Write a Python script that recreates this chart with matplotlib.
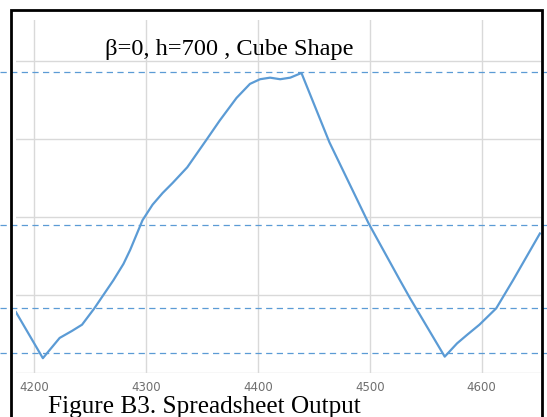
import numpy as np
import matplotlib
matplotlib.use("Agg")
import matplotlib.pyplot as plt
from matplotlib.patches import Rectangle

# Curve (x = time step, y = arbitrary units).
x_vals = [4184, 4208, 4223, 4234, 4243, 4254, 4262, 4271, 4280, 4286, 4297,
          4306, 4315, 4324, 4337, 4354, 4366, 4381, 4393, 4402, 4411, 4420,
          4429, 4439, 4464, 4499, 4527, 4536, 4567, 4578, 4587, 4598, 4613,
          4628, 4652]
y_vals = [0.78, 0.19, 0.45, 0.54, 0.62, 0.83, 1.00, 1.19, 1.40, 1.58, 1.96,
          2.16, 2.31, 2.44, 2.64, 2.99, 3.24, 3.53, 3.71, 3.77, 3.79, 3.77,
          3.79, 3.85, 2.96, 1.92, 1.19, 0.96, 0.21, 0.38, 0.49, 0.62, 0.83,
          1.19, 1.79]

# Dashed reference levels
ref_levels = [3.86, 1.90, 0.83, 0.26]

x_ticks = [4200, 4300, 4400, 4500, 4600]
y_grid = [0, 1, 2, 3, 4]

title_text = "\u03b2=0, h=700 , Cube Shape"
caption_text = "Figure B3. Spreadsheet Output"

blue = "#5b9bd5"

fig = plt.figure(figsize=(5.47, 4.17), dpi=100)
ax = fig.add_axes([16 / 547, 1 - 373 / 417, 525 / 547, 353 / 417])

ax.plot(x_vals, y_vals, color=blue, lw=1.6, zorder=3)

for lvl in ref_levels:
    ax.axhline(lvl, xmin=-0.031, xmax=1.012, color=blue, lw=0.9,
               ls=(0, (5, 3.5)), clip_on=False, zorder=2)

ax.set_xlim(4184, 4653)
ax.set_ylim(0, 4.53)
ax.set_xticks(x_ticks)
ax.set_yticks(y_grid)
ax.set_yticklabels([])
ax.tick_params(axis="both", length=0)
ax.tick_params(axis="x", labelsize=8.5, labelcolor="#6f6f6f", pad=6)
ax.grid(True, color="#d9d9d9", lw=1)
ax.set_axisbelow(True)
for s in ax.spines.values():
    s.set_visible(False)

# black outer frame
fig.patches.append(Rectangle((11 / 547, -0.05), 531 / 547, 1 - 10 / 417 + 0.05,
                             transform=fig.transFigure, fill=False,
                             edgecolor="black", lw=2, zorder=5))

fig.text(105 / 547, 1 - 50 / 417, title_text, family="Liberation Serif",
         fontsize=17.6, va="center", ha="left")
fig.text(48 / 547, 1 - 407 / 417, caption_text, family="Liberation Serif",
         fontsize=18.2, va="center", ha="left")

fig.savefig("out.png", dpi=100)
